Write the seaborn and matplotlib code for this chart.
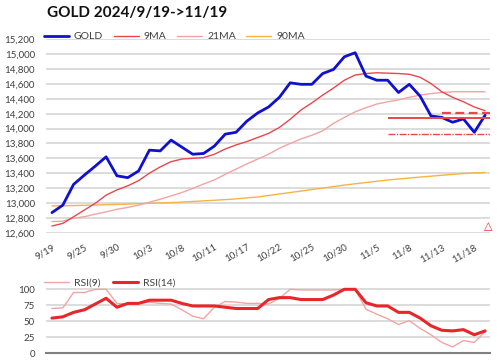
import matplotlib
matplotlib.use("Agg")
import matplotlib.pyplot as plt
import pandas as pd
import seaborn as sns
import numpy as np

dates = ["9/19", "9/20", "9/24", "9/25", "9/26", "9/27", "9/30", "10/1", "10/2", "10/3",
         "10/4", "10/7", "10/8", "10/9", "10/10", "10/11", "10/15", "10/16", "10/17", "10/18",
         "10/21", "10/22", "10/23", "10/24", "10/25", "10/28", "10/29", "10/30", "10/31", "11/1",
         "11/5", "11/6", "11/7", "11/8", "11/11", "11/12", "11/13", "11/14", "11/15", "11/18", "11/19"]

gold = [12870, 12970, 13250, 13375, 13495, 13620, 13365, 13340, 13430, 13710,
        13700, 13845, 13750, 13655, 13665, 13765, 13925, 13950, 14100, 14210,
        14290, 14420, 14615, 14595, 14595, 14740, 14795, 14965, 15020, 14705,
        14650, 14650, 14485, 14595, 14435, 14170, 14150, 14085, 14130, 13950, 14180]
ma9 = [12690, 12725, 12815, 12905, 12995, 13105, 13175, 13230, 13300, 13400,
       13485, 13555, 13590, 13600, 13610, 13655, 13725, 13780, 13825, 13880,
       13935, 14015, 14125, 14250, 14345, 14450, 14545, 14650, 14720, 14740,
       14750, 14745, 14740, 14730, 14690, 14605, 14495, 14420, 14360, 14290, 14240]
ma21 = [12750, 12755, 12795, 12815, 12850, 12880, 12915, 12940, 12970, 13010,
        13050, 13095, 13140, 13195, 13255, 13310, 13385, 13455, 13525, 13590,
        13655, 13735, 13800, 13860, 13910, 13970, 14070, 14150, 14225, 14280,
        14330, 14360, 14385, 14420, 14450, 14470, 14485, 14495, 14495, 14495, 14495]
ma90 = [12960, 12962, 12965, 12968, 12972, 12976, 12980, 12985, 12990, 12995,
        13000, 13005, 13012, 13020, 13028, 13036, 13045, 13055, 13068, 13080,
        13100, 13120, 13140, 13160, 13180, 13200, 13220, 13240, 13258, 13275,
        13292, 13308, 13322, 13335, 13348, 13360, 13372, 13384, 13395, 13403, 13410]

rsi9 = [70, 71, 95, 95, 100, 100, 78, 77, 78, 80, 78, 77, 68, 58, 54, 72, 81, 80, 78, 78,
        77, 86, 100, 99, 99, 99, 99, 100, 100, 69, 61, 54, 45, 51, 39, 29, 17, 10, 20, 17, 34]
rsi14 = [55, 57, 64, 68, 77, 86, 72, 78, 78, 83, 83, 83, 78, 74, 74, 74, 72, 70, 70, 70,
         84, 87, 87, 84, 84, 84, 91, 100, 100, 79, 74, 74, 64, 64, 55, 43, 36, 35, 37, 29, 35]

# support / resistance levels on the right (value, start date, style)
levels = [14215, 14145, 13930]
level_start = ["11/13", "11/6", "11/6"]
level_style = [(0, (4, 2)), "-", (0, (5, 1, 1, 1))]
level_width = [1.6, 1.4, 1.0]

df = pd.DataFrame({"x": np.arange(len(dates)), "date": dates, "GOLD": gold, "9MA": ma9,
                   "21MA": ma21, "90MA": ma90, "RSI(9)": rsi9, "RSI(14)": rsi14})

sns.set_style("white")
plt.rcParams["font.family"] = ["Lato", "DejaVu Sans"]
txt = "#404040"

fig = plt.figure(figsize=(5, 3.61), dpi=100)
ax = fig.add_axes([0.092, 0.3554, 0.888, 0.5357])
ax2 = fig.add_axes([0.092, 0.0213, 0.888, 0.1826])

sns.lineplot(data=df, x="x", y="90MA", ax=ax, color="#f5b342", lw=1.0, label="90MA")
sns.lineplot(data=df, x="x", y="21MA", ax=ax, color="#f4a3a3", lw=1.0, label="21MA")
sns.lineplot(data=df, x="x", y="9MA", ax=ax, color="#e8474c", lw=1.0, label="9MA")
sns.lineplot(data=df, x="x", y="GOLD", ax=ax, color="#1010d0", lw=2.0, label="GOLD")

for v, s, ls, w in zip(levels, level_start, level_style, level_width):
    ax.hlines(v, dates.index(s), 40.45, colors="#e8474c", linestyles=ls, lw=w)

ax.text(0.995, 0.035, "\u25b3", transform=ax.transAxes, ha="center", va="center",
        color="#e8262a", fontsize=8, family="DejaVu Sans")

ax.set_xlim(-0.55, 40.45)
ax.set_ylim(12600, 15200)
ax.set_yticks(np.arange(12600, 15201, 200))
ax.set_yticklabels([f"{v:,}" for v in range(12600, 15201, 200)])
ax.set_xticks(df["x"][::3])
ax.set_xticklabels(dates[::3], rotation=30, ha="right", rotation_mode="anchor")
ax.grid(axis="y", color="#d9d9d9", lw=1.3)
ax.set_axisbelow(True)
for sp in ax.spines.values():
    sp.set_visible(False)
ax.tick_params(axis="both", length=0, labelsize=7, colors=txt)
ax.tick_params(axis="x", pad=7)
ax.tick_params(axis="y", pad=8)
ax.set_xlabel("")
ax.set_ylabel("")
h, l = ax.get_legend_handles_labels()
ax.legend(h[::-1], l[::-1], ncol=4, loc="lower left", bbox_to_anchor=(-0.005, 0.99),
          frameon=False, fontsize=7.5, handlelength=2.4, columnspacing=1.0,
          handletextpad=0.5, borderaxespad=0, borderpad=0, labelcolor=txt)

fig.text(0.094, 0.965, "GOLD 2024/9/19->11/19", fontsize=11, fontweight="bold",
         color="#111111", va="center", ha="left")

sns.lineplot(data=df, x="x", y="RSI(9)", ax=ax2, color="#f4a3a3", lw=1.0, label="RSI(9)")
sns.lineplot(data=df, x="x", y="RSI(14)", ax=ax2, color="#e8262a", lw=2.2, label="RSI(14)")
ax2.set_xlim(-0.55, 40.45)
ax2.set_ylim(0, 103)
ax2.set_yticks([0, 25, 50, 75, 100])
ax2.set_xticks([])
ax2.grid(axis="y", color="#d9d9d9", lw=1.3)
ax2.set_axisbelow(True)
for k, sp in ax2.spines.items():
    sp.set_visible(k == "bottom")
ax2.spines["bottom"].set_color("#808080")
ax2.spines["bottom"].set_linewidth(1.5)
ax2.tick_params(axis="both", length=0, labelsize=7, colors=txt)
ax2.tick_params(axis="y", pad=8)
ax2.set_xlabel("")
ax2.set_ylabel("")
ax2.legend(ncol=2, loc="lower left", bbox_to_anchor=(-0.005, 1.0), frameon=False,
           fontsize=7.5, handlelength=2.4, columnspacing=1.2, handletextpad=0.5,
           borderaxespad=0, borderpad=0, labelcolor=txt)

fig.savefig("out.png", dpi=100)
